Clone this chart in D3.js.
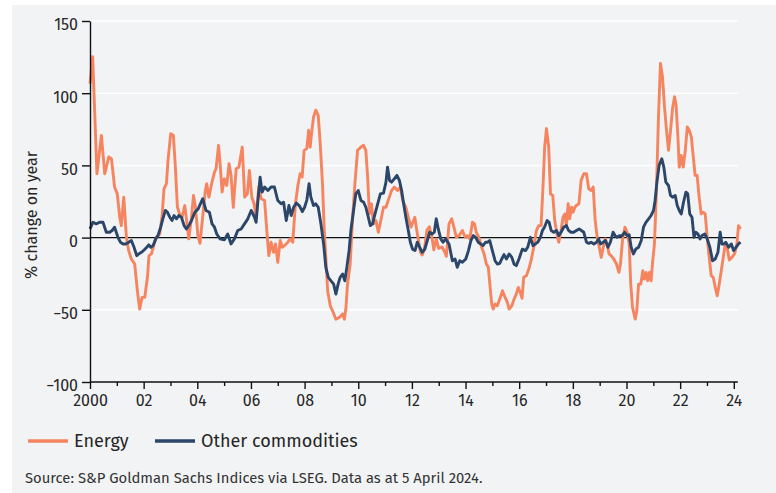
<!DOCTYPE html>
<html>
<head>
<meta charset="utf-8">
<script src="https://cdn.jsdelivr.net/npm/d3@7"></script>
<style>
  html, body { margin: 0; padding: 0; background: #fff; }
  text { font-family: "Fira Sans", "Noto Sans", sans-serif; fill: #262626; }
</style>
</head>
<body>
<div id="chart"></div>
<script>
// months since Jan 2000, and % change on year
var energyMonths = [0,1.2,3.1,5.1,6.6,8.4,9.6,11,12.2,13.3,14,15.1,16.3,17.3,18.5,20,21.2,22.2,23.3,24.5,25.7,26.4,27.5,28.7,29.7,31.2,32.2,33.1,34.2,34.9,36.1,37.3,38.2,39.1,40.1,41.2,42.4,43.4,44.2,45.4,46.3,47.2,48.3,49.2,50.4,51.6,52.2,53.2,54.4,55.7,56.4,57.5,58.2,59.1,60.1,61.2,62.2,63.1,64.1,65.4,66.6,68.1,69.2,70.4,71.3,72.4,73.4,74.3,75.5,76.6,78.1,79.1,80,81,82.1,83,84,85.1,86,87,88.5,89.6,90.7,91.9,93,94,94.9,95.8,97,97.8,98.5,99.1,100,101,102.1,103,104,104.8,105.5,106.3,107.5,108.5,110,111.5,113,113.8,114.5,115.2,116.4,117.4,118.5,119.7,121.2,122.4,123.4,124.2,125,125.9,126.8,127.9,129,130.1,131.3,132.4,133.9,134.9,136.1,137.6,138.8,139.9,141.3,142.4,143.6,145.3,146.5,147.8,148.6,149.6,150.7,151.8,153,153.8,154.9,156,157.5,158.7,159.4,160.6,161.8,162.8,163.9,165.1,166.6,167.8,168.8,169.9,171.1,172,172.8,174,175.2,176.3,177.3,178.2,179,179.7,180.4,181.2,182.2,183.3,184.5,185.7,186.7,187.5,188.7,189.7,190.7,191.6,192.5,193.3,194,195.2,196.3,197.3,198.5,199.7,200.7,201.8,202.7,203.4,204.2,205.2,206,207,207.9,209,209.7,210.7,211.6,212.4,213.1,213.9,214.6,215.4,216.1,216.9,217.6,218.7,219.7,220.9,222.1,223.1,224.2,225.1,226,226.9,227.8,228.7,229.6,230.5,231.3,232.2,233.1,234.3,235.5,236.6,237.3,238.2,239.3,240.3,241.2,241.9,242.7,243.9,244.6,245.4,246.4,247.3,248,248.8,249.5,250.3,251,251.6,252.5,253.4,254.3,255.2,256.1,257,257.9,258.8,259.7,260.6,261.5,262.2,263,263.6,264.5,265.4,266.3,267.2,268.1,269,269.9,270.7,271.6,272.5,273.4,274.3,275.2,276.1,277,277.9,278.8,279.7,280.6,281.5,282.4,283.3,284.2,285.1,286,287.2,288.4,289.4,290.1,291];
var energyValues = [106.7,125.2,44.2,70.8,44.2,55.8,54.6,35,30.3,14.1,8.3,28,0.2,-9,-14.8,-18.3,-36.8,-49.5,-41.4,-41.4,-27.5,-12.5,-11.3,-4.4,0.2,2.5,14.1,33.8,37.3,53.5,72,70.8,48.8,21,16.4,14.1,22.2,9.5,-0.9,14.1,29.2,21,1,-4,14,32.6,37.3,28,37.3,45.4,47.7,63.9,51.2,31.5,40.7,36.1,51.2,43.1,21,47.7,48.8,62.7,28,30.3,46.5,28,23.4,14.1,35,26.9,25.7,4.9,-12.5,-3.2,-10.2,-4.4,-17.1,-2,-6.7,-5.6,-3.2,-0.9,-3.2,23.4,36.1,44.2,41.9,60.4,61.6,74.3,62.7,72,83.6,88.2,84.7,65,37.3,4.9,-13.7,-36.8,-47.2,-50.7,-56.5,-55.3,-53,-56.5,-48.4,-32.2,-18.3,11.8,37.3,60.4,62.7,63.9,60.4,41.9,16.4,23.4,9.5,11.8,3.7,11.8,21,21,28,32.6,35,32.6,35,25.7,21,14.1,7.2,14.1,2,-10,-12,-8,5,7.5,0,-8.5,-1,-7.5,-6.5,-10,-13,9.5,13,7.2,0.2,1.4,4.9,0.2,1.4,-0.9,10.6,9.5,3.7,0.2,-6.7,-11.3,-18.3,-20.6,-34.5,-46,-49.5,-46,-47.2,-42.6,-36.8,-41.4,-44.9,-49.5,-47.2,-42.6,-39.1,-34.5,-38,-42,-27.5,-26.4,-21.8,-16,-6.7,4.9,8.3,8.3,37.3,62.7,75.5,62.7,30.3,29.2,11.8,1.4,-3.2,4.9,14.1,16.4,8.3,23.4,13,21,17.6,21,22.2,23.4,39.6,44.2,44.2,33.8,32.6,35,11.8,0.2,-6.7,-13.7,-6.7,-0.9,-4.4,-11.3,-12.5,-14.8,-18.3,-24.1,-18.3,-2,7.2,3.7,-4.4,-32.2,-48.4,-56.5,-50.7,-32.2,-32.2,-22.9,-28.7,-24.1,-29.9,-24.1,-29.9,-18.3,-4.4,32.6,83.6,120.6,111.4,90.5,74.3,60.4,74.3,89.4,97.5,91.7,69.7,48.8,56.9,48.8,60.4,76.6,74.3,69.7,55.8,43.1,43.1,28,16.4,17.6,16.4,0.2,-13.7,-26.4,-27.5,-34.5,-40.3,-32.2,-22.9,-13.7,-4.4,-7.9,-15.5,-13.7,-10.9,-4.4,8.3,6];

var otherMonths = [0,1.3,2.8,4.3,5.8,7.3,8.8,9.9,11,12.5,13.6,14.8,16,17.3,18.5,19.7,20.9,21.8,23,24.2,25.4,26.3,27.2,28.2,29.4,30.4,31.6,32.8,33.7,34.6,35.7,36.7,37.6,38.7,39.7,40.9,42.1,43.1,44.2,45.4,46.9,48.4,50.4,51.9,53.4,54.6,55.7,56.7,58.2,60.1,61.6,63.1,64.6,66.1,67.6,69.1,70.6,72.1,73.6,74.3,75,76.1,77,78.1,79.6,81,82.5,84,85.5,86.6,87.8,89,90,91.1,92.3,93.7,95,96,97,98,98.8,100,101,102.1,103.3,104.5,105.5,106.6,107.8,109,110,111,111.9,113,114,114.9,115.9,116.7,117.9,118.9,120,121.2,122.4,123.4,124.5,125.4,126.4,127.5,128.7,129.9,131.3,132.4,133.1,134,134.9,136.1,137.3,138.4,139.4,140.3,141.3,142.4,143.3,144.3,145.4,146.4,147.5,148.6,149.8,150.9,151.9,153.1,154,154.9,155.8,156.9,157.9,159.1,160.6,162.1,163.3,164.3,165.4,166.6,168.1,169.3,170.4,171.5,172.5,173.7,174.8,175.8,177,177.9,178.8,180,181.2,182.2,183.3,184.2,185.2,186.3,187.5,188.7,189.7,190.7,191.9,193.4,194.8,195.8,197,198.2,199.3,200.3,201.5,202.4,203.3,204.5,205.4,206.3,207.5,208.7,209.7,210.7,211.9,213.1,214.1,215.2,216.4,217.6,218.8,219.8,220.9,222.1,223.1,224.2,225.4,226.6,227.5,228.4,229.6,230.6,231.7,232.8,234,234.9,235.8,237,238.1,239.1,240.3,241.2,242.1,243.1,244.2,245.4,246.6,247.6,248.7,249.9,251,252.1,252.8,253.6,254.6,255.8,256.7,257.6,258.8,259.7,260.6,261.8,262.7,263.6,264.5,265.5,266.6,267.4,268.3,269.3,270.2,271.1,272,272.9,273.8,275,276.1,277.3,278.5,279.7,280.9,281.9,282.7,283.6,284.4,285.7,286.9,287.9,289,290.1,291];
var otherValues = [6,10.6,9.5,10.6,10.6,3.7,3.7,4.9,7.2,0.2,-3.2,-4.4,-4.4,-3.2,-2,-6.7,-12.5,-11.3,-10.2,-8.6,-6.7,-5,-6.7,-5.6,-0.9,1.4,7.2,14.1,18.8,17.6,14.1,11.8,15.3,13,15.3,14.1,8.3,6,8.3,11.8,17.6,19.9,26.9,18.8,17.6,9.5,7.2,2.5,-0.9,-1.6,2.5,-4.4,-0.9,4.9,6,9.5,13,18.8,14.1,10.6,23.4,41.9,31.5,35,32.6,35,35,25.7,23.4,24.5,11.8,22.2,15.3,21,24,22,18,21,26,37.3,28,22.2,23.4,21,9.5,-4.4,-20.6,-27.5,-29.9,-32.2,-39.1,-32.2,-27.5,-25.2,-29.9,-20.6,-9,4.9,18.8,30.3,32.6,25.7,24.5,21,14.1,8.3,9.5,16.4,23.4,30.3,30.8,38.4,48.8,39.6,38.4,40.7,43.1,39.6,32.6,23.4,14.1,4.9,-3.2,-8,-9,-3.2,-6.7,-10.2,-7.9,-2,3.7,2.5,3.7,13,6,-0.9,-3.2,-0.9,-4.4,-16,-14.8,-20.6,-16,-17.1,-14.8,-9,-2,1.4,0.2,-3.2,-4.4,-5.6,-3.2,-3.2,-2,-9,-16,-18.3,-17.8,-14.8,-11.8,-14.8,-11.3,-13.7,-18.3,-19.4,-14.8,-8,-9,-6.7,0.2,-5.6,-4.4,-3.2,0.2,4.9,7.2,11.8,10.6,4.9,3.7,4.9,1.4,3.7,7.2,8.3,4.9,3.7,3.7,4.9,6,4.9,3.7,-3.2,-4,-3.2,-4.4,-3.2,-0.9,-4.4,-3.2,-2,-6.7,-3.2,3.7,1.4,0.2,1.4,1.4,3.7,1.4,2,-6.7,-11.3,-7.9,-6.7,-2,7.2,10.6,13,15.3,18.8,25.7,38.4,50,54.6,48.8,38.4,36.1,29.2,28,29.2,22.2,18.8,16.4,24.5,31.5,30.3,16.4,14.1,0.2,3.7,2.5,-0.9,1.4,2.5,-0.9,-6.7,-16,-14.8,-10.2,3.7,-4.4,-4.4,-3.2,-6.7,-4.4,-9,-6.7,-4.4,-3.2];

var yTicks = [-100, -50, 0, 50, 100, 150];
var xTicks = d3.range(2000, 2025);
var seriesNames = ["Energy", "Other commodities"];
var seriesColors = ["#f5845f", "#2b4669"];

var W = 776, H = 493;
var svg = d3.select("#chart").append("svg")
    .attr("width", W)
    .attr("height", H);

// grey panel
svg.append("rect")
    .attr("x", 12).attr("y", 5)
    .attr("width", W - 12).attr("height", H - 5)
    .attr("fill", "#f2f3f5");

var x = d3.scaleLinear().domain([2000, 2024.25]).range([90, 740.5]);
var y = d3.scaleLinear().domain([-100, 150]).range([382, 21]);
var xEnd = x(2024.15);

function toPoints(months, values) {
  return months.map(function(m, i) { return { t: 2000 + m / 12, v: values[i] }; });
}
var energy = toPoints(energyMonths, energyValues);
var other = toPoints(otherMonths, otherValues);

// white gridlines
svg.append("g").selectAll("line")
    .data(yTicks.filter(function(d) { return d !== 0 && d !== -100; }))
  .enter().append("line")
    .attr("x1", x(2000)).attr("x2", xEnd)
    .attr("y1", function(d) { return y(d); })
    .attr("y2", function(d) { return y(d); })
    .attr("stroke", "#fff")
    .attr("stroke-width", 1.5);

// zero line
svg.append("line")
    .attr("x1", x(2000)).attr("x2", xEnd)
    .attr("y1", y(0)).attr("y2", y(0))
    .attr("stroke", "#111")
    .attr("stroke-width", 1.4);

var line = d3.line()
    .x(function(d) { return x(d.t); })
    .y(function(d) { return y(d.v); });

svg.append("path")
    .datum(energy)
    .attr("fill", "none")
    .attr("stroke", seriesColors[0])
    .attr("stroke-width", 2.9)
    .attr("stroke-linejoin", "round")
    .attr("d", line);

svg.append("path")
    .datum(other)
    .attr("fill", "none")
    .attr("stroke", seriesColors[1])
    .attr("stroke-width", 2.9)
    .attr("stroke-linejoin", "round")
    .attr("d", line);

// Y axis
var yAxis = svg.append("g")
    .attr("transform", "translate(" + x(2000) + ",0)")
    .call(d3.axisLeft(y).tickValues(yTicks).tickSize(8).tickSizeOuter(0).tickPadding(4));
yAxis.select(".domain").attr("stroke", "#111").attr("stroke-width", 1.4);
yAxis.selectAll(".tick line").attr("stroke", "#111").attr("stroke-width", 1.4);
yAxis.selectAll(".tick text")
    .attr("font-size", 16)
    .attr("dy", "0.55em")
    .style("font-family", null);

// X axis
var xAxis = svg.append("g")
    .attr("transform", "translate(0," + y(-100) + ")")
    .call(d3.axisBottom(x).tickValues(xTicks).tickSize(7).tickSizeOuter(0)
      .tickFormat(function(d) {
        if (d === 2000) return "2000";
        return d % 2 === 0 ? String(d).slice(2) : "";
      }));
xAxis.select(".domain").attr("d", "M" + x(2000) + ",0H" + xEnd)
    .attr("stroke", "#111").attr("stroke-width", 1.4);
xAxis.selectAll(".tick line")
    .attr("stroke", "#111").attr("stroke-width", 1.4)
    .attr("y2", function(d) { return d % 2 === 0 ? 7 : 4; });
xAxis.selectAll(".tick text")
    .attr("font-size", 16)
    .attr("y", 13)
    .style("font-family", null);

// Y title
svg.append("text")
    .attr("transform", "translate(37,215) rotate(-90)")
    .attr("text-anchor", "middle")
    .attr("font-size", 16)
    .text("% change on year");

// legend
var legendX = [28, 155];
seriesNames.forEach(function(name, i) {
  svg.append("line")
      .attr("x1", legendX[i]).attr("x2", legendX[i] + 40)
      .attr("y1", 441).attr("y2", 441)
      .attr("stroke", seriesColors[i])
      .attr("stroke-width", 3.5);
  svg.append("text")
      .attr("x", legendX[i] + 46)
      .attr("y", 447)
      .attr("font-size", 18)
      .text(name);
});

// source note
svg.append("text")
    .attr("x", 25)
    .attr("y", 483)
    .attr("font-size", 14.8)
    .style("fill", "#333")
    .text("Source: S&P Goldman Sachs Indices via LSEG. Data as at 5 April 2024.");
</script>
</body>
</html>
